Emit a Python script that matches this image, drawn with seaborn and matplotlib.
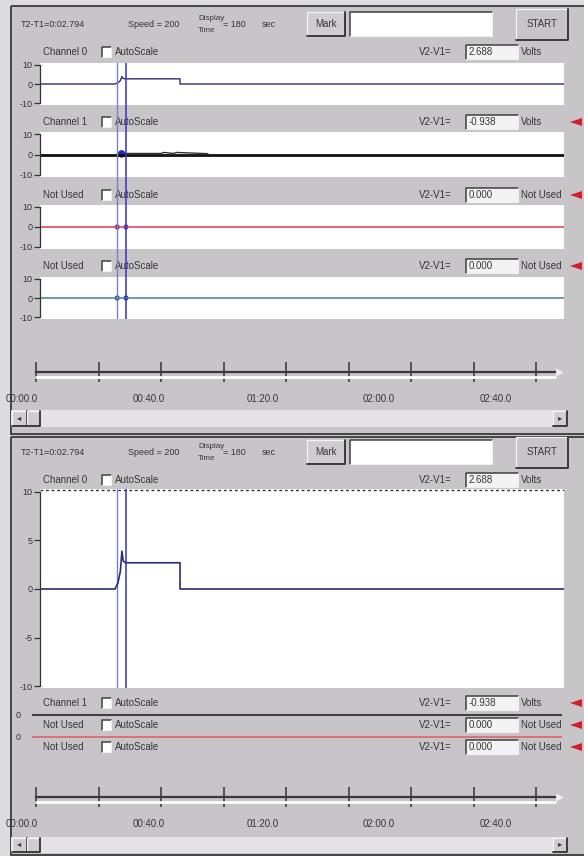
import matplotlib
matplotlib.use("Agg")
import matplotlib.pyplot as plt
import seaborn as sns
from matplotlib.patches import Rectangle, Polygon

sns.set_theme(style="white")
plt.rcParams['font.family'] = ['Liberation Sans', 'DejaVu Sans']

# ---- data ----
ch0_time = [1.3, 25.3, 26.2, 27.0, 27.5, 27.9, 28.6, 46.1, 46.1, 169.0]
ch0_volts = [0.0, 0.0, 0.6, 1.8, 3.9, 2.9, 2.7, 2.7, 0.0, 0.0]
ch1_time = [1.3, 169.0]
ch1_volts = [0.0, 0.0]
ch1_ripple_time = [28.5, 40.0, 41.0, 44.0, 45.0, 55.0]
ch1_ripple_volts = [0.5, 0.5, 1.0, 0.5, 1.0, 0.4]
flat_time = [1.3, 169.0]
flat_volts = [0.0, 0.0]
cursor_times = [26.0, 28.8]

top_names = ["Channel 0", "Channel 1", "Not Used", "Not Used"]
top_values = ["2.688", "-0.938", "0.000", "0.000"]
top_units = ["Volts", "Volts", "Not Used", "Not Used"]
bottom_names = ["Channel 1", "Not Used", "Not Used"]
bottom_values = ["-0.938", "0.000", "0.000"]
bottom_units = ["Volts", "Not Used", "Not Used"]

tick_secs = [0, 20, 40, 60, 80, 100, 120, 140, 160]
time_labels = ["00:00.0", "00:40.0", "01:20.0", "02:00.0", "02:40.0"]
time_label_pos = [-4.5, 36.0, 72.5, 109.5, 147.0]

T_LIM = (1.28, 169.0)
W, H = 584, 856
PANEL = '#c8c5c9'
TXT = '#363636'

fig = plt.figure(figsize=(W / 100, H / 100), dpi=100, facecolor=PANEL)

bg = fig.add_axes([0, 0, 1, 1], zorder=-1)
bg.set_xlim(0, W)
bg.set_ylim(H, 0)
bg.axis('off')


def box(x0, y0, x1, y1, fc, ec='none', lw=0.8):
    bg.add_patch(Rectangle((x0, y0), x1 - x0, y1 - y0, facecolor=fc, edgecolor=ec, lw=lw))


def sunken(x0, y0, x1, y1, fc='white'):
    box(x0, y0, x1, y1, fc)
    bg.plot([x0, x0, x1], [y1, y0, y0], color='#404040', lw=1.1)
    bg.plot([x0, x1, x1], [y1, y1, y0], color='#f0f0f0', lw=0.8)


def raised(x0, y0, x1, y1, fc='#d0cdd1'):
    box(x0, y0, x1, y1, fc)
    bg.plot([x0, x0, x1], [y1, y0, y0], color='#f4f4f4', lw=0.9)
    bg.plot([x0, x1, x1], [y1, y1, y0], color='#303030', lw=1.3)


def txt(x, y, s, size=7, ha='left'):
    bg.text(x, y, s, fontsize=size, ha=ha, va='center', color=TXT)


def header(y):
    txt(21, y, 'T2-T1=0:02.794', size=6.5)
    txt(128, y, 'Speed = 200', size=6.5)
    txt(198, y - 6, 'Display', size=5.8)
    txt(198, y + 6, 'Time', size=5.8)
    txt(223, y, '= 180', size=6.5)
    txt(262, y, 'sec', size=6.5)
    raised(307, y - 12, 345, y + 12)
    txt(326, y, 'Mark', ha='center')
    sunken(350, y - 12, 492, y + 12)
    raised(516, y - 15, 568, y + 16, fc=PANEL)
    txt(542, y, 'START', ha='center')


def channel_row(y, name, value, unit, arrow):
    txt(43, y, name)
    sunken(102, y - 5, 111, y + 5)
    txt(115, y, 'AutoScale')
    txt(419, y, 'V2-V1=')
    sunken(466, y - 7, 518, y + 7, fc='#f3f3f3')
    txt(469, y, value)
    txt(521, y, unit)
    if arrow:
        bg.add_patch(Polygon([[570, y], [582, y - 4], [582, y + 4]], closed=True,
                             facecolor='#d0202c', edgecolor='none'))


def scrollbar(y0, y1):
    box(11, y0, 568, y1, '#e4e2e6')
    raised(12, y0 + 1, 27, y1 - 1)
    txt(19.5, (y0 + y1) / 2, '◂', size=6, ha='center')
    raised(27, y0 + 1, 40, y1 - 1)
    raised(553, y0 + 1, 567, y1 - 1)
    txt(560, (y0 + y1) / 2, '▸', size=6, ha='center')


# outer chrome
box(0, 0, W, 6, '#dcdbdd')
box(0, 0, 10, H, '#dcdbdd')
box(11, 6, 600, 434, 'none', ec='#3a3a3a', lw=1.3)
box(11, 437, 600, 855, 'none', ec='#3a3a3a', lw=1.3)

header(24)
for name, value, unit, y, arrow in zip(top_names, top_values, top_units,
                                       [52, 122, 195, 266], [False, True, True, True]):
    channel_row(y, name, value, unit, arrow)
scrollbar(410, 427)

header(452)
channel_row(480, "Channel 0", "2.688", "Volts", False)
for name, value, unit, y in zip(bottom_names, bottom_values, bottom_units, [703, 725, 747]):
    channel_row(y, name, value, unit, True)
scrollbar(837, 853)


def px_axes(x0, y0, x1, y1, **kw):
    return fig.add_axes([x0 / W, 1 - y1 / H, (x1 - x0) / W, (y1 - y0) / H], **kw)


def data_ax(x0, y0, x1, y1, ylim, yticks):
    ax = px_axes(x0, y0, x1, y1)
    ax.set_facecolor('white')
    for s in ['top', 'right', 'bottom']:
        ax.spines[s].set_visible(False)
    ax.spines['left'].set_bounds(-10, 10)
    ax.spines['left'].set_color('#333333')
    ax.spines['left'].set_linewidth(0.9)
    ax.set_yticks(yticks)
    ax.set_yticklabels([f'{v:g}' for v in yticks])
    ax.tick_params(axis='y', left=True, length=4, width=0.9, pad=1.5,
                   labelsize=6.5, colors='#333333')
    ax.set_xticks([])
    ax.set_xlim(T_LIM)
    ax.set_ylim(ylim)
    return ax


def trace(ax, t, v, color, lw=1.0):
    sns.lineplot(x=t, y=v, ax=ax, color=color, lw=lw, estimator=None, sort=False)


# top panel traces
p1 = data_ax(40, 63, 564, 105, (-11, 11), [10, 0, -10])
trace(p1, ch0_time, ch0_volts, '#2c2c78')
p2 = data_ax(40, 132, 564, 177, (-11, 11), [10, 0, -10])
trace(p2, ch1_time, ch1_volts, '#101010', lw=2.0)
trace(p2, ch1_ripple_time, ch1_ripple_volts, '#303030', lw=1.0)
sns.scatterplot(x=[27.4], y=[0.3], ax=p2, color='#2a2ab8', s=30, edgecolor='none')
p3 = data_ax(40, 205, 564, 249, (-11, 11), [10, 0, -10])
trace(p3, flat_time, flat_volts, '#e04a5a', lw=1.2)
sns.scatterplot(x=cursor_times, y=[0, 0], ax=p3, color='#3535c0', s=14, edgecolor='none')
p4 = data_ax(40, 277, 564, 319, (-11, 11), [10, 0, -10])
trace(p4, flat_time, flat_volts, '#4f9090', lw=1.2)
sns.scatterplot(x=cursor_times, y=[0, 0], ax=p4, color='#3535c0', s=14, edgecolor='none')

ov = px_axes(40, 63, 564, 319)
ov.set_xlim(T_LIM)
ov.set_ylim(0, 1)
ov.axis('off')
ov.patch.set_alpha(0)
ov.axvline(cursor_times[0], color='#7c7cc8', lw=1.0)
ov.axvline(cursor_times[1], color='#3333cc', lw=1.1)

# bottom panel big trace
big = data_ax(40, 489, 564, 688, (-10.2, 10.3), [10, 5, 0, -5, -10])
big.axhline(10.15, color='#303030', lw=1.0, ls=(0, (2, 2)))
big.axvline(cursor_times[0], color='#7c7cc8', lw=1.0)
big.axvline(cursor_times[1], color='#3333cc', lw=1.1)
trace(big, ch0_time, ch0_volts, '#2c2c70', lw=1.2)

# collapsed channels
for y0, col, lw in [(712, '#404040', 1.5), (734, '#e06070', 1.2)]:
    ax = px_axes(32, y0, 562, y0 + 6)
    ax.patch.set_alpha(0)
    for s in ax.spines.values():
        s.set_visible(False)
    ax.set_xticks([])
    ax.set_yticks([0])
    ax.set_yticklabels(['0'])
    ax.tick_params(axis='y', left=True, length=0, pad=8, labelsize=6.5, colors='#333333')
    trace(ax, flat_time, flat_volts, col, lw=lw)
    ax.set_xlim(T_LIM)
    ax.set_ylim(-1, 1)


def time_ax(y_center):
    # 36 px is t = 0, 3.125 px per second
    ax = px_axes(10, y_center - 12, 566, y_center + 12)
    ax.patch.set_alpha(0)
    for s in ['left', 'right', 'top']:
        ax.spines[s].set_visible(False)
    sp = ax.spines['bottom']
    sp.set_position(('data', 0))
    sp.set_bounds(0, 166)
    sp.set_color('#3a3a3a')
    sp.set_linewidth(1.6)
    ax.set_yticks([])
    ax.set_xticks(tick_secs)
    ax.set_xticklabels([])
    ax.set_xticks(time_label_pos, minor=True)
    ax.set_xticklabels(time_labels, minor=True)
    ax.tick_params(axis='x', which='major', bottom=True, direction='inout',
                   length=14, width=1.1, color='#333333')
    ax.tick_params(axis='x', which='minor', bottom=True, length=0, pad=16,
                   labelsize=7, labelcolor=TXT)
    ax.plot([0, 166], [-0.42, -0.42], color='white', lw=2)
    ax.plot([167.5], [0], marker='>', color='#eeeeee', ms=5)
    ax.set_xlim(-8.32, 169.6)
    ax.set_ylim(-1, 1)
    return ax


time_ax(372)
time_ax(797)

fig.savefig('out.png', dpi=100, facecolor=fig.get_facecolor())
